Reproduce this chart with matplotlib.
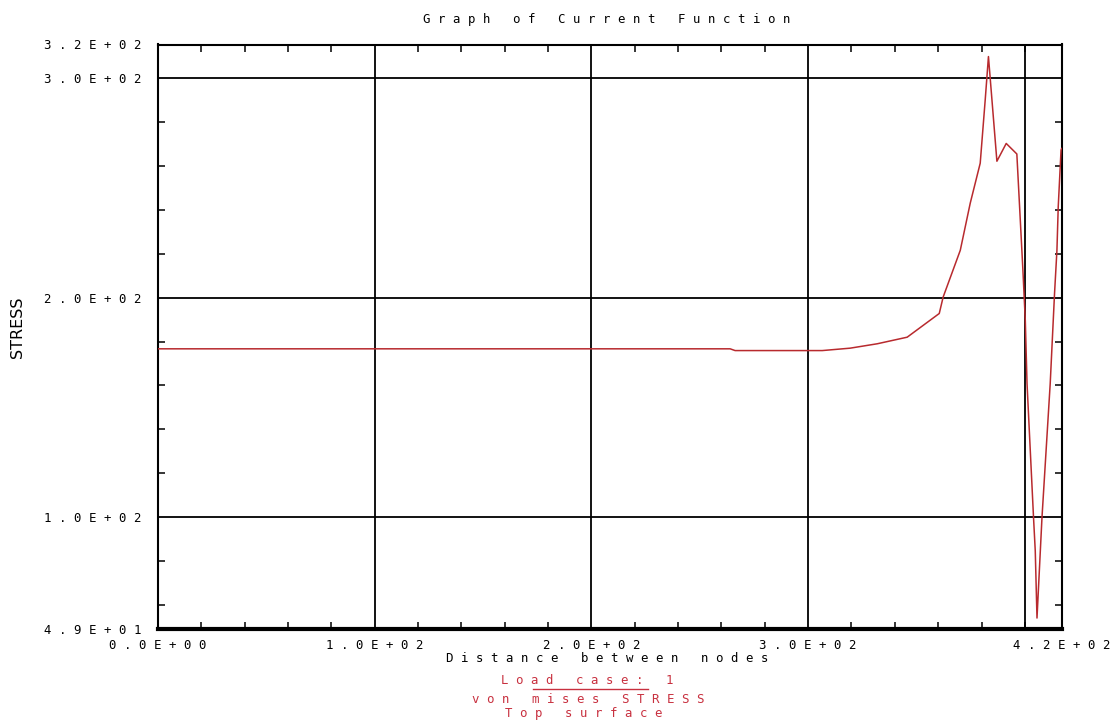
import matplotlib
matplotlib.use("Agg")
import matplotlib.pyplot as plt
from matplotlib.lines import Line2D
from matplotlib.ticker import MultipleLocator, FixedLocator, NullFormatter

# Von Mises stress along the node path (top surface, load case 1)
distance = [0.0, 264.0, 266.3, 306.5, 319.4, 331.9, 345.7, 360.5, 362.3,
            370.2, 374.8, 379.4, 381.7, 383.2, 387.1, 391.4, 396.3, 399.1,
            400.2, 401.0, 404.0, 404.8, 405.6, 407.9, 411.7, 413.7, 414.8,
            415.4, 416.7, 417.0]
stress = [176.7, 176.7, 175.9, 175.9, 177.0, 179.0, 182.0, 192.8, 200.3,
          221.6, 243.1, 261.3, 290.1, 309.9, 262.2, 270.3, 265.5, 212.5,
          189.7, 160.9, 99.8, 84.6, 54.0, 99.8, 160.9, 202.0, 221.6,
          241.4, 267.3, 268.0]

x_range = (0.0, 417.0)
y_range = (49.0, 315.4)
x_label_values = [0.0, 100.0, 200.0, 300.0, 417.0]
x_label_texts = ["0.0E+00", "1.0E+02", "2.0E+02", "3.0E+02", "4.2E+02"]
y_label_values = [49.0, 100.0, 200.0, 300.0, 315.4]
y_label_texts = ["4.9E+01", "1.0E+02", "2.0E+02", "3.0E+02", "3.2E+02"]
x_grid = [100.0, 200.0, 300.0, 400.0]
y_grid = [100.0, 200.0, 300.0]

title_text = "Graph of Current Function"
xlabel_text = "Distance between nodes"
ylabel_text = "STRESS"
caption_lines = ["Load case: 1", "von mises STRESS", "Top surface"]

LINE_RED = "#b82a2e"
TEXT_RED = "#c8303f"
MONO = "DejaVu Sans Mono"
FS = 8.9


def spaced(s):
    """Plotter-style lettering: one blank cell between glyphs."""
    return " ".join(s)


W, H = 1119, 721
fig = plt.figure(figsize=(W / 100, H / 100), dpi=100)
fig.patch.set_facecolor("white")
ax = fig.add_axes([158 / W, (H - 629) / H, 903.7 / W, 584.5 / H])

ax.plot(distance, stress, color=LINE_RED, lw=1.1, zorder=3)

for gx in x_grid:
    ax.axvline(gx, color="black", lw=1.3, zorder=2)
for gy in y_grid:
    ax.axhline(gy, color="black", lw=1.3, zorder=2)

ax.set_xlim(*x_range)
ax.set_ylim(*y_range)

ax.xaxis.set_major_locator(FixedLocator(x_label_values))
ax.set_xticklabels([spaced(t) for t in x_label_texts], family=MONO, fontsize=FS)
ax.yaxis.set_major_locator(FixedLocator(y_label_values))
ax.set_yticklabels([spaced(t) for t in y_label_texts], family=MONO, fontsize=FS)

ax.xaxis.set_minor_locator(MultipleLocator(20))
ax.yaxis.set_minor_locator(MultipleLocator(20))
ax.xaxis.set_minor_formatter(NullFormatter())
ax.yaxis.set_minor_formatter(NullFormatter())

ax.tick_params(which="major", length=0, pad=4)
ax.tick_params(axis="y", which="major", pad=12)
ax.tick_params(axis="x", which="major", pad=7)
ax.tick_params(which="minor", direction="in", length=5, width=1.1,
               top=True, right=True, bottom=True, left=True, color="black")

for side in ("left", "right", "top"):
    ax.spines[side].set_linewidth(1.5)
ax.spines["bottom"].set_linewidth(3.0)

ax.set_ylabel(ylabel_text, family="DejaVu Sans", fontsize=11.5)
ax.yaxis.set_label_coords((17.5 - 158) / 903.7, (629 - 327.5) / 584.5)
ax.yaxis.label.set_verticalalignment("center")

fig.text(607 / W, 1 - 20 / H, spaced(title_text), family=MONO, fontsize=FS,
         ha="center", va="center")
fig.text(607 / W, 1 - 659 / H, spaced(xlabel_text), family=MONO, fontsize=FS,
         ha="center", va="center")

caption_y = [680, 699.5, 714]
caption_x = [587, 588, 584]
for txt, cx, cy in zip(caption_lines, caption_x, caption_y):
    fig.text(cx / W, 1 - cy / H, spaced(txt), family=MONO, fontsize=FS,
             color=TEXT_RED, ha="center", va="center")
fig.add_artist(Line2D([533 / W, 648 / W], [1 - 689 / H, 1 - 689 / H],
                      color=TEXT_RED, lw=1.0))

fig.savefig("out.png", dpi=100, facecolor="white")
